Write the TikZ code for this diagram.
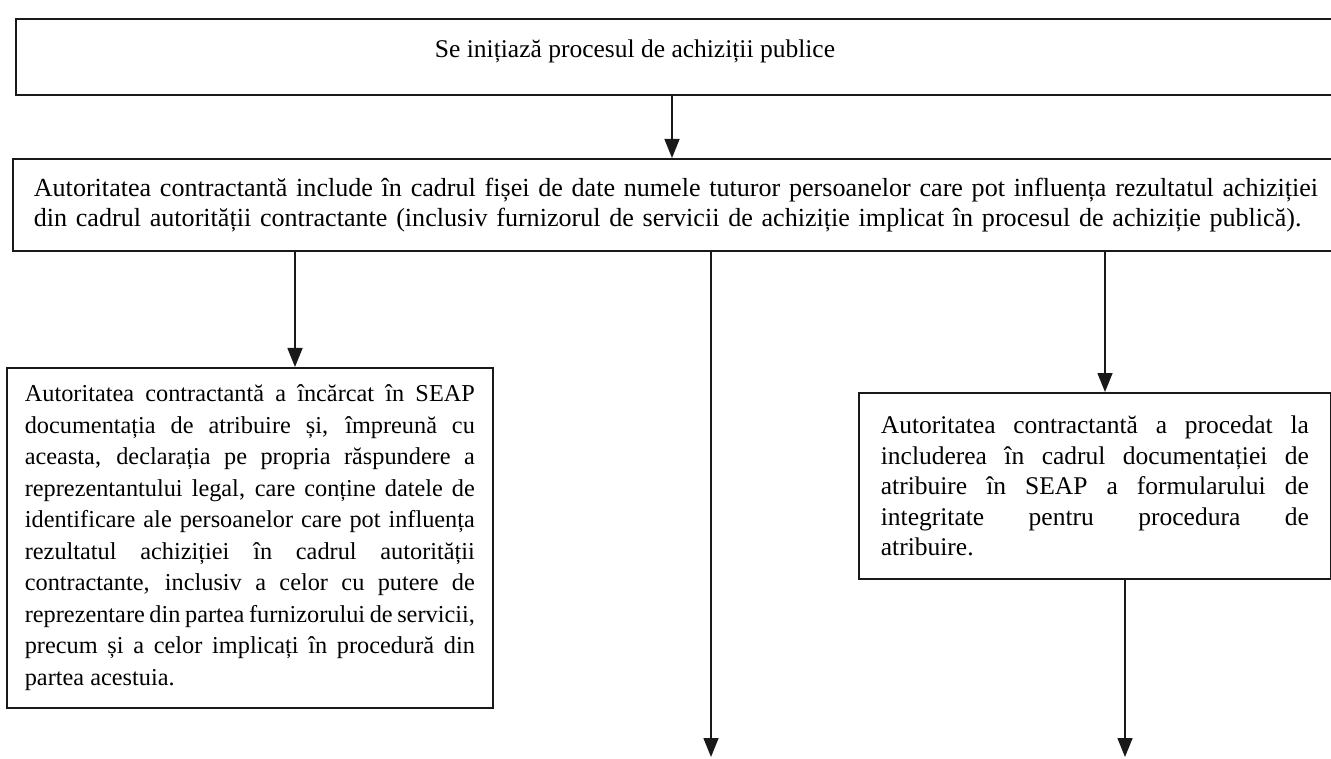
\documentclass[tikz,border=0pt]{standalone}
\usepackage{fontspec}
\setmainfont{Liberation Serif}
\usetikzlibrary{arrows.meta}
\hyphenpenalty=10000
\tolerance=10000
\hbadness=10000

\begin{document}
\begin{tikzpicture}[x=1pt,y=-1pt,
  box/.style={draw=black!90,line width=1.7pt,inner ysep=0pt,anchor=north west,
    font=\fontsize{25.5}{30.5}\selectfont},
  lbl/.style={font=\fontsize{25.5}{30.5}\selectfont},
  arr/.style={draw=black!90,line width=1.5pt,-{Triangle[width=15pt,length=19pt]}}]
\useasboundingbox (0,0) rectangle (1331,759);
% start of the procedure
\node[box,minimum width=1340,minimum height=76] (start) at (15,18) {};
\node[lbl] (starttxt) at (635,51) {Se inițiază procesul de achiziții publice};
% data sheet
\node[box,text width=1300,inner xsep=21pt,minimum height=92,align=left,
  font=\fontsize{26.1}{30.5}\selectfont] (fisa) at (12,158) {%
Autoritatea contractantă include în cadrul fișei de date numele tuturor persoanelor care pot influența rezultatul achiziției\\
din cadrul autorității contractante (inclusiv furnizorul de servicii de achiziție implicat în procesul de achiziție publică).};
% declaration in SEAP
\node[box,text width=450,inner xsep=18pt,minimum height=340,align=justify,
  font=\fontsize{24.3}{31.5}\selectfont] (seap) at (6,367) {%
Autoritatea contractantă a încărcat în SEAP\linebreak
documentația de atribuire și, împreună cu\linebreak
aceasta, declarația pe propria răspundere a\linebreak
reprezentantului legal, care conține datele de\linebreak
identificare ale persoanelor care pot influența\linebreak
rezultatul achiziției în cadrul autorității\linebreak
contractante, inclusiv a celor cu putere de\linebreak
reprezentare din partea furnizorului de servicii,\linebreak
precum și a celor implicați în procedură din\linebreak
partea acestuia.};
% integrity form
\node[box,text width=428,inner xsep=22pt,minimum height=186,align=justify] (formular) at (858,392) {%
Autoritatea contractantă a procedat la\linebreak
includerea în cadrul documentației de\linebreak
atribuire în SEAP a formularului de\linebreak
integritate pentru procedura de\linebreak
atribuire.};
% arrows
\coordinate (colA) at (672,0);
\coordinate (colB) at (295,0);
\coordinate (colC) at (1105,0);
\coordinate (colD) at (1125,0);
\coordinate (endmid) at (711,757);
\coordinate (endright) at (1125,757);
\draw[arr] (start.south -| colA) -- (fisa.north -| colA);
\draw[arr] (fisa.south -| colB) -- (seap.north -| colB);
\draw[arr] (fisa.south -| endmid) -- (endmid);
\draw[arr] (fisa.south -| colC) -- (formular.north -| colC);
\draw[arr] (formular.south -| colD) -- (endright);
\end{tikzpicture}
\end{document}
